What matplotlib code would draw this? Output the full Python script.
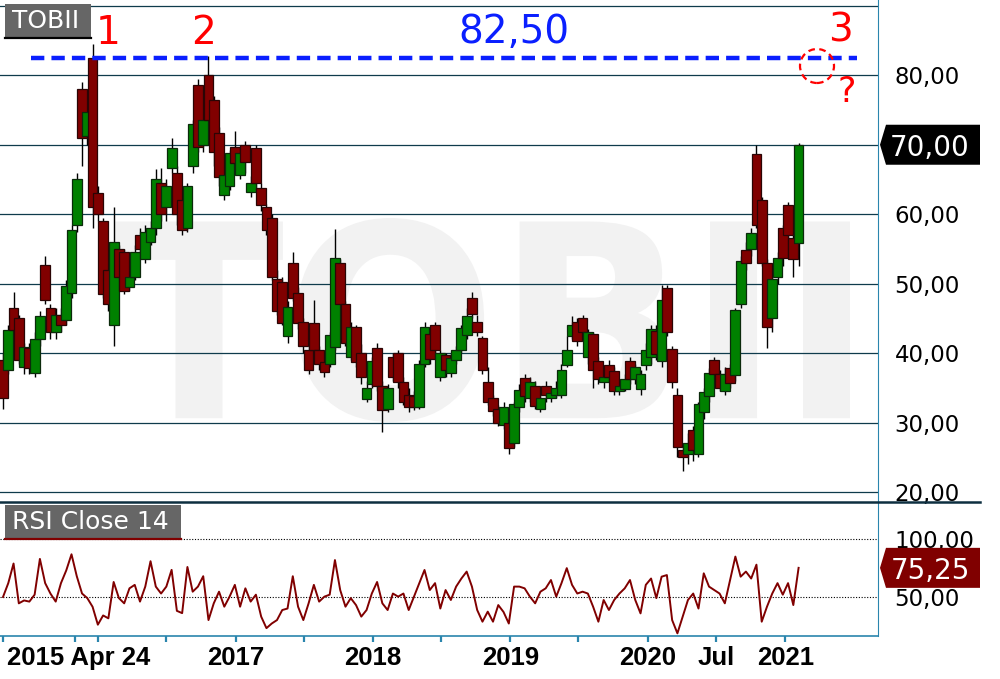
import numpy as np
import pandas as pd
import matplotlib
matplotlib.use("Agg")
import matplotlib.pyplot as plt
import matplotlib.dates as mdates
from matplotlib.patches import Rectangle, Polygon, Ellipse, PathPatch
from matplotlib.lines import Line2D
from matplotlib.textpath import TextPath
from matplotlib.font_manager import FontProperties
from matplotlib.transforms import Affine2D, ScaledTranslation

# Data: two-week candles of TOBII
dates = pd.date_range("2015-04-24", periods=152, freq="14D")

opens = [39, 37.6, 46.5, 45, 38, 40.7, 37.1, 42, 52.7, 46.5, 43, 45.5, 44.7, 48.7, 58.4, 78,
         71.3, 82.5, 63, 59, 52, 44, 55, 54.5, 49.5, 51, 57, 53.5, 56, 58, 64.5, 61,
         66.7, 66, 62, 58, 67, 78.6, 70, 80, 76.4, 71.7, 62.7, 64, 69.7, 65.6, 70, 63.2,
         69.5, 63.8, 61, 59.4, 50.6, 50.3, 42.5, 53, 48.7, 44.5, 40.4, 44.4, 40.4, 38.7,
         38.5, 40.9, 53, 47, 39.5, 43.7, 40, 33.4, 35.5, 40.8, 35.2, 32, 39.5, 40,
         35.8, 34, 33.8, 32.3, 38.5, 42.7, 44.1, 36.6, 39.7, 37.2, 39, 40.4, 42.6, 48,
         44.5, 42.2, 35.9, 33.6, 31.9, 29.7, 30, 27, 32.3, 36.4, 33.6, 35.3, 32, 35.3,
         33.5, 33.9, 33.9, 38.3, 42.4, 44.5, 45, 39.5, 42.7, 38.8, 35.8, 38.3, 37.4, 34.5,
         34.8, 38.8, 36.2, 34.8, 38.3, 39.4, 43.2, 38.8, 49.4, 40.6, 34, 26, 25.5, 28.9,
         25.4, 31.5, 33.8, 39, 37, 34.6, 37.8, 36.9, 47, 54.8, 55, 68.6, 62, 53,
         45.1, 51, 58, 61.3, 56.6, 55.9]
highs = [40, 44, 48.8, 45.5, 41.5, 41.5, 43, 46, 54, 47, 46.5, 46.5, 50.5, 58.5, 66, 79,
         75.5, 84.5, 64, 59.5, 53, 61, 55.5, 55, 52, 55.5, 58, 58.5, 59, 66.5, 66.7, 65,
         71, 67, 62.5, 64.5, 73.5, 79.5, 74, 82.8, 77, 72.5, 66, 69.3, 72, 69.5, 70.5, 65.5,
         70, 64.5, 61.5, 60, 52, 51, 47.5, 54.5, 49.5, 45, 41, 47.7, 41, 39.5,
         43, 57.8, 53.5, 47.5, 44.5, 44, 41.3, 36, 39.5, 41.5, 36, 35.5, 40, 40.5,
         36.5, 35, 34.5, 39, 44.5, 43, 44.5, 40.5, 40, 40, 41, 44, 46.5, 48.8,
         45.5, 42.5, 38, 34, 32.5, 33, 31.6, 33, 35.5, 37, 36.5, 36, 34.5, 36,
         35, 36, 38.5, 42.5, 45.3, 45, 45.5, 43.5, 43, 39.5, 37.5, 39, 38, 36,
         37, 39.5, 38.5, 37.5, 41.5, 44, 44, 49.8, 49.8, 41, 35, 27, 28.5, 29.5,
         33, 35, 37.8, 39.5, 37.5, 38, 38.5, 46.5, 54, 56, 58, 69.9, 62.5, 53.5,
         51, 54.5, 58.5, 61.7, 57, 70.2]
lows = [32, 37, 42.5, 38.5, 37, 37, 36.5, 41, 47, 42, 42, 43, 44, 48, 57.5, 67,
        70, 58, 59, 48, 46, 41, 50, 48.5, 49, 50.5, 54, 53, 55.5, 57, 59, 59,
        66, 58.5, 57, 57.5, 66, 69, 69, 73, 67, 64, 62, 63.5, 66.5, 65, 66, 62.5,
        63.5, 60.5, 57, 50.5, 45.5, 44, 41.5, 47.5, 43.5, 40, 37, 40, 37.5, 36.5,
        38, 40.5, 46.5, 41, 39, 38, 35.5, 33, 35, 34.5, 28.6, 31.5, 36, 35,
        32.5, 31.5, 31.8, 32, 38, 38.5, 39.5, 36, 36.5, 36.5, 38.5, 40, 42, 45,
        42.5, 37, 32.5, 31, 29.5, 29, 25.4, 26.5, 31.5, 33, 33, 32, 31.5, 33,
        33, 33.5, 33.5, 38, 42, 41, 42.5, 38.5, 35, 35.5, 35, 36, 34, 34,
        34.5, 35.5, 35.5, 34, 37.5, 38.5, 39, 38, 42.5, 35, 25, 23, 24, 24.5,
        25, 30.5, 33, 36, 34.5, 34, 35, 36, 46.5, 52, 54, 58, 52.5, 40.8,
        43, 50, 52.5, 56, 51, 52.5]
closes = [33.6, 43.3, 43.3, 39, 40.9, 37.8, 42, 45.4, 47.6, 43, 45.5, 44, 49.6, 57.7, 65, 71,
          74.7, 61, 60, 48.5, 47, 56, 51, 49, 51, 54.5, 55, 57.5, 58, 65, 60, 64,
          69.5, 60, 57.7, 64, 73, 69.7, 73.6, 73.6, 69, 65.4, 65.6, 68.8, 67.4, 68.8, 67.5, 64.5,
          64.5, 61.3, 57.7, 51, 46, 44.4, 46.7, 48, 44.4, 41, 37.6, 40.5, 38.5, 37.3,
          42.6, 53.7, 47, 41.5, 43.7, 38.7, 36.6, 35, 38.8, 35.2, 31.8, 35, 36.5, 35.8,
          33, 32.2, 32.3, 38.5, 43.7, 39.1, 40.5, 40, 37.6, 39.3, 40.4, 43.6, 45.4, 45.6,
          43, 37.6, 33, 31.6, 30, 32.2, 26.4, 32.7, 34.7, 33.8, 35.8, 32.4, 33.6, 33.9,
          34.3, 35, 37.5, 40.4, 44.1, 41.8, 43.1, 43, 37.6, 36.2, 36.6, 36.5, 34.5, 35.3,
          36.2, 36.2, 38, 37, 40.4, 43.4, 39.8, 47.7, 43, 35.9, 26.5, 25, 27, 26,
          32.6, 34.4, 37.2, 37, 35, 37, 35.7, 46.2, 53.2, 53, 57.3, 58.5, 53, 43.7,
          50.6, 53.7, 53.7, 57, 53.5, 70]

# RSI Close 14, one reading per candle
rsi = [50, 62, 79, 44.5, 47, 46, 52, 83, 62, 53, 46, 62, 73, 87, 68, 53,
       49, 41.5, 26, 34, 31.5, 63, 49, 44.5, 57.5, 60.5, 46, 59, 81, 59, 53, 59,
       73.5, 38, 36, 76, 54.6, 59, 68, 30, 44.5, 54.6, 41.6, 50.3, 60.5, 41.6, 57.5, 46,
       52, 33, 23, 27, 30, 38.7, 40, 68, 41.6, 30, 44.5, 60.5, 46, 50.3,
       52, 82, 56, 41.6, 49, 43, 33, 38.7, 53, 63, 44.5, 38.7, 53, 50.3,
       53, 38.7, 50.3, 62, 73.4, 56, 62, 40, 56, 47.4, 59, 66, 72, 59,
       38.7, 28.6, 37.3, 28.6, 43, 37, 27, 59, 59, 57.5, 50.3, 44.5, 54.6, 57.5,
       64.7, 50.3, 62, 75, 60.5, 53, 54.6, 53, 41.6, 28.6, 47.4, 38.7, 47.4, 53,
       57.5, 64.7, 47.4, 35.8, 60.5, 66, 49, 67.6, 69, 30, 18.5, 33, 47.4, 53,
       40, 70.5, 59, 56, 53, 44.5, 64.7, 85, 67.6, 72, 66, 78, 28.6, 41.6,
       53, 62, 52, 62, 43, 75.25]

price_ticks = [20, 30, 40, 50, 60, 70, 80, 90]
# the 70 label sits under the last-price tag, so it stays blank
price_labels = ["20,00", "30,00", "40,00", "50,00", "60,00", "", "80,00", ""]
rsi_ticks = [50, 100]
rsi_labels = ["50,00", "100,00"]
tick_dates = ["2015-04-24", "2015-11-01", "2016-01-01", "2016-07-01", "2017-01-01",
              "2017-07-01", "2018-01-01", "2018-07-01", "2019-01-01", "2019-07-01",
              "2020-01-01", "2020-07-01", "2021-01-01"]
tick_names = ["2015 Apr 24", "", "", "", "2017", "", "2018", "", "2019", "",
              "2020", "Jul", "2021"]
resistance = 82.5

W, H = 1000, 679
GREEN = "#008000"
RED = "#800000"
GRID = "#0f3b4c"
AXIS = "#2a85ad"


def fx(px):
    return px / W


def fy(py):
    return 1 - py / H


fig = plt.figure(figsize=(W / 100, H / 100), dpi=100)
ax = fig.add_axes([0, fy(502), fx(878), 502 / H])
ax2 = fig.add_axes([0, fy(636), fx(878), 134 / H])

x = mdates.date2num(dates)
o = np.array(opens)
h = np.array(highs)
l = np.array(lows)
c = np.array(closes)
up = c >= o

# candles
ax.vlines(x, l, h, color="black", lw=1.0, zorder=2)
for i in range(len(x)):
    col = GREEN if up[i] else RED
    edge = "#0b2a0b" if up[i] else "#2a0505"
    ax.bar(x[i], c[i] - o[i], bottom=o[i], width=26, color=col,
           edgecolor=edge, linewidth=0.9, zorder=3)

xmin = mdates.date2num(pd.Timestamp("2015-04-16"))
xmax = mdates.date2num(pd.Timestamp("2021-09-04"))
ax.set_xlim(xmin, xmax)
ax.set_ylim(18.56, 90.84)

ax.yaxis.tick_right()
ax.set_yticks(price_ticks)
ax.set_yticklabels(price_labels)
ax.tick_params(axis="y", length=0, pad=12, labelsize=16.5)
ax.set_xticks([])
ax.grid(axis="y", color=GRID, lw=0.9)
ax.set_axisbelow(True)
for s in ["top", "left", "bottom"]:
    ax.spines[s].set_visible(False)
ax.spines["right"].set_color(AXIS)
ax.patch.set_visible(False)

# watermark
tp = TextPath((0, 0), "TOBII", prop=FontProperties(family="DejaVu Sans", weight="bold"))
bb = tp.get_extents()
x0, x1, y0, y1 = fx(115), fx(850), fy(422), fy(218)
tr = (Affine2D().translate(-bb.x0, -bb.y0)
      .scale((x1 - x0) / bb.width, (y1 - y0) / bb.height)
      .translate(x0, y0) + fig.transFigure)
ax.add_patch(PathPatch(tp, transform=tr, facecolor="#f2f2f2", edgecolor="none",
                       zorder=0.1, clip_on=False))

# resistance line
ax.axhline(resistance, xmin=31 / 878, xmax=857 / 878, color="#0a1fff", lw=3.2,
           dashes=(3, 1.6), zorder=4)

# RSI panel
ax2.plot(x, rsi, color=RED, lw=1.4, zorder=3)
ax2.set_xlim(xmin, xmax)
ax2.set_ylim(16.2, 132.3)
ax2.yaxis.tick_right()
ax2.set_yticks(rsi_ticks)
ax2.set_yticklabels(rsi_labels)
ax2.tick_params(axis="y", length=0, pad=12, labelsize=16.5)
ax2.grid(axis="y", color="black", lw=0.8, linestyle=(0, (1, 1.5)))
ax2.set_xticks(mdates.date2num(pd.to_datetime(tick_dates)))
ax2.set_xticklabels(tick_names, fontsize=18.5, fontweight="bold", family="Liberation Sans")
ax2.tick_params(axis="x", length=4, width=1.6, color=AXIS, pad=3)
first = ax2.get_xticklabels()[0]
first.set_ha("left")
first.set_transform(first.get_transform() + ScaledTranslation(0.04, 0, fig.dpi_scale_trans))
for s in ["top", "left"]:
    ax2.spines[s].set_visible(False)
ax2.spines["right"].set_color(AXIS)
ax2.spines["bottom"].set_color(AXIS)
ax2.spines["bottom"].set_linewidth(1.2)
ax2.patch.set_visible(False)

# separator between panels
fig.add_artist(Line2D([0, fx(980)], [fy(502), fy(502)], transform=fig.transFigure,
                      color="#0d2f40", lw=1.8))

# panel titles
fig.add_artist(Rectangle((fx(5), fy(37)), fx(86), 33 / H, transform=fig.transFigure,
                         facecolor="#666666", edgecolor="none"))
fig.add_artist(Line2D([fx(5), fx(91)], [fy(38), fy(38)], transform=fig.transFigure,
                      color="black", lw=1.6))
fig.text(fx(12), fy(21), "TOBII", color="white", fontsize=18, va="center", ha="left")

fig.add_artist(Rectangle((fx(5), fy(538)), fx(176), 33 / H, transform=fig.transFigure,
                         facecolor="#666666", edgecolor="none"))
fig.add_artist(Line2D([fx(5), fx(181)], [fy(539), fy(539)], transform=fig.transFigure,
                      color=RED, lw=1.6))
fig.text(fx(12), fy(522), "RSI Close 14", color="white", fontsize=18, va="center", ha="left")


def value_tag(axis, value, text, color):
    yd = axis.transData.transform((xmin, value))[1]
    yc = H - yd
    pts = [(880, yc), (886, yc - 20), (980, yc - 20), (980, yc + 20), (886, yc + 20)]
    fig.add_artist(Polygon([(fx(a), fy(b)) for a, b in pts], closed=True,
                           transform=fig.transFigure, facecolor=color, edgecolor="none"))
    fig.text(fx(930), fy(yc), text, color="white", fontsize=20, ha="center", va="center_baseline")


value_tag(ax, closes[-1], "70,00", "black")
value_tag(ax2, rsi[-1], "75,25", RED)

# annotations
fig.text(fx(108), fy(33), "1", color="red", fontsize=28, ha="center", va="center")
fig.text(fx(203), fy(33), "2", color="red", fontsize=28, ha="center", va="center")
fig.text(fx(840), fy(31), "3", color="red", fontsize=28, ha="center", va="center")
fig.text(fx(847), fy(92), "?", color="red", fontsize=25, ha="center", va="center")
fig.text(fx(514), fy(32), "82,50", color="#0a1fff", fontsize=28, ha="center", va="center")
fig.add_artist(Ellipse((fx(817), fy(66)), 34 / W, 34 / H, transform=fig.transFigure,
                       fill=False, edgecolor="red", lw=1.6, linestyle=(0, (3, 2))))

fig.savefig("out.png", dpi=100)
